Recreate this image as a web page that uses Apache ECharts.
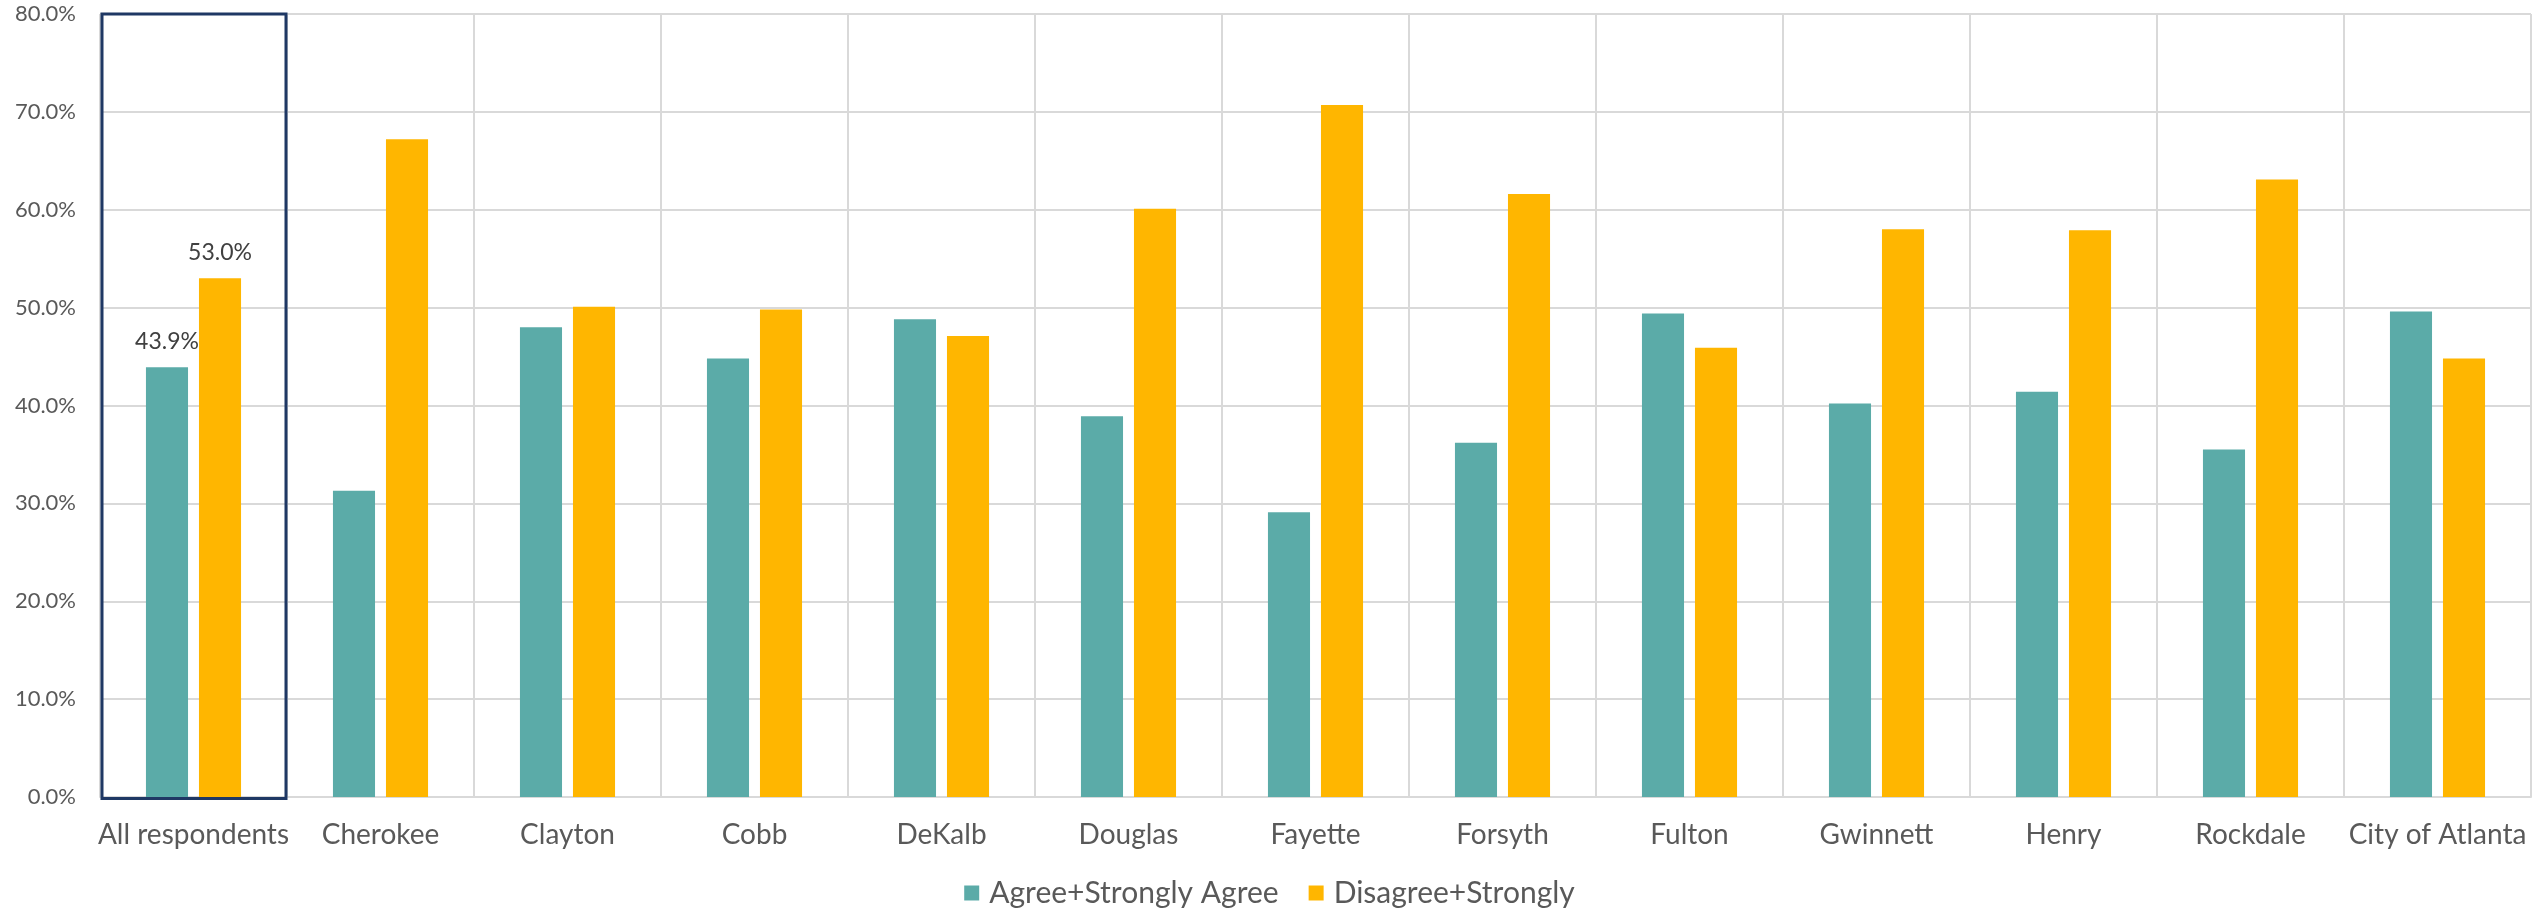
<!DOCTYPE html>
<html>
<head>
<meta charset="utf-8">
<script src="https://cdn.jsdelivr.net/npm/echarts@6/dist/echarts.min.js"></script>
<style>
html,body{margin:0;padding:0;background:#fff;}
#chart{width:2539px;height:913px;}
</style>
</head>
<body>
<div id="chart"></div>
<script>
const categories = ["All respondents","Cherokee","Clayton","Cobb","DeKalb","Douglas","Fayette","Forsyth","Fulton","Gwinnett","Henry","Rockdale","City of Atlanta"];
const agree = [43.9,31.3,48.0,44.8,48.8,38.9,29.1,36.2,49.4,40.2,41.4,35.5,49.6];
const disagree = [53.0,67.2,50.1,49.8,47.1,60.1,70.7,61.6,45.9,58.0,57.9,63.1,44.8];
const seriesNames = ["Agree+Strongly Agree","Disagree+Strongly"];
const highlightCategory = "All respondents";

const FONT = "Lato";
const chart = echarts.init(document.getElementById('chart'), null, {renderer:'canvas'});

function withLabel(arr){
  return arr.map((v,i)=> categories[i]===highlightCategory ? {value:v, label:{show:true}} : v);
}
const labelCfg = {
  show:false, position:'top', distance:14,
  formatter: p => p.value.toFixed(1)+'%',
  color:'#404040', fontSize:23, fontFamily:FONT
};

chart.setOption({
  animation:false,
  textStyle:{fontFamily:FONT},
  grid:{left:100,right:8,top:14,bottom:116,containLabel:false},
  legend:{
    data:seriesNames, left:'center', top:873,
    icon:'rect', itemWidth:15, itemHeight:15, itemGap:30,
    textStyle:{color:'#595959', fontSize:30, fontFamily:FONT, padding:[0,0,0,5]}
  },
  xAxis:{
    type:'category', data:categories,
    axisLine:{show:true, lineStyle:{color:'#D9D9D9', width:2}},
    axisTick:{show:false},
    axisLabel:{color:'#595959', fontSize:28, fontFamily:FONT, margin:24, interval:0},
    splitLine:{show:true, interval:0, lineStyle:{color:'#D9D9D9', width:2}}
  },
  yAxis:{
    type:'value', min:0, max:80, interval:10,
    axisLine:{show:false}, axisTick:{show:false},
    axisLabel:{color:'#595959', fontSize:22, fontFamily:FONT, margin:24, formatter:v=>v.toFixed(1)+'%'},
    splitLine:{show:true, lineStyle:{color:'#D9D9D9', width:2}}
  },
  series:[
    {name:seriesNames[0], type:'bar', data:withLabel(agree), barWidth:'22.5%', barGap:'26%',
     itemStyle:{color:'#5BABA8'}, label:labelCfg},
    {name:seriesNames[1], type:'bar', data:withLabel(disagree), barWidth:'22.5%', barGap:'26%',
     itemStyle:{color:'#FFB600'}, label:labelCfg}
  ]
});

// box around highlighted category, positioned via the axis scales
const idx = categories.indexOf(highlightCategory);
const c0 = chart.convertToPixel({xAxisIndex:0}, categories[0]);
const c1 = chart.convertToPixel({xAxisIndex:0}, categories[1]);
const band = c1 - c0;
const cx = chart.convertToPixel({xAxisIndex:0}, categories[idx]);
const yTop = chart.convertToPixel({yAxisIndex:0}, 80);
const yBot = chart.convertToPixel({yAxisIndex:0}, 0);
chart.setOption({
  graphic:[{
    type:'rect', z:100, silent:true,
    shape:{x:cx-band/2+2, y:yTop, width:band-3, height:yBot-yTop+1.5},
    style:{fill:'none', stroke:'#1F3864', lineWidth:3}
  }]
});
</script>
</body>
</html>
